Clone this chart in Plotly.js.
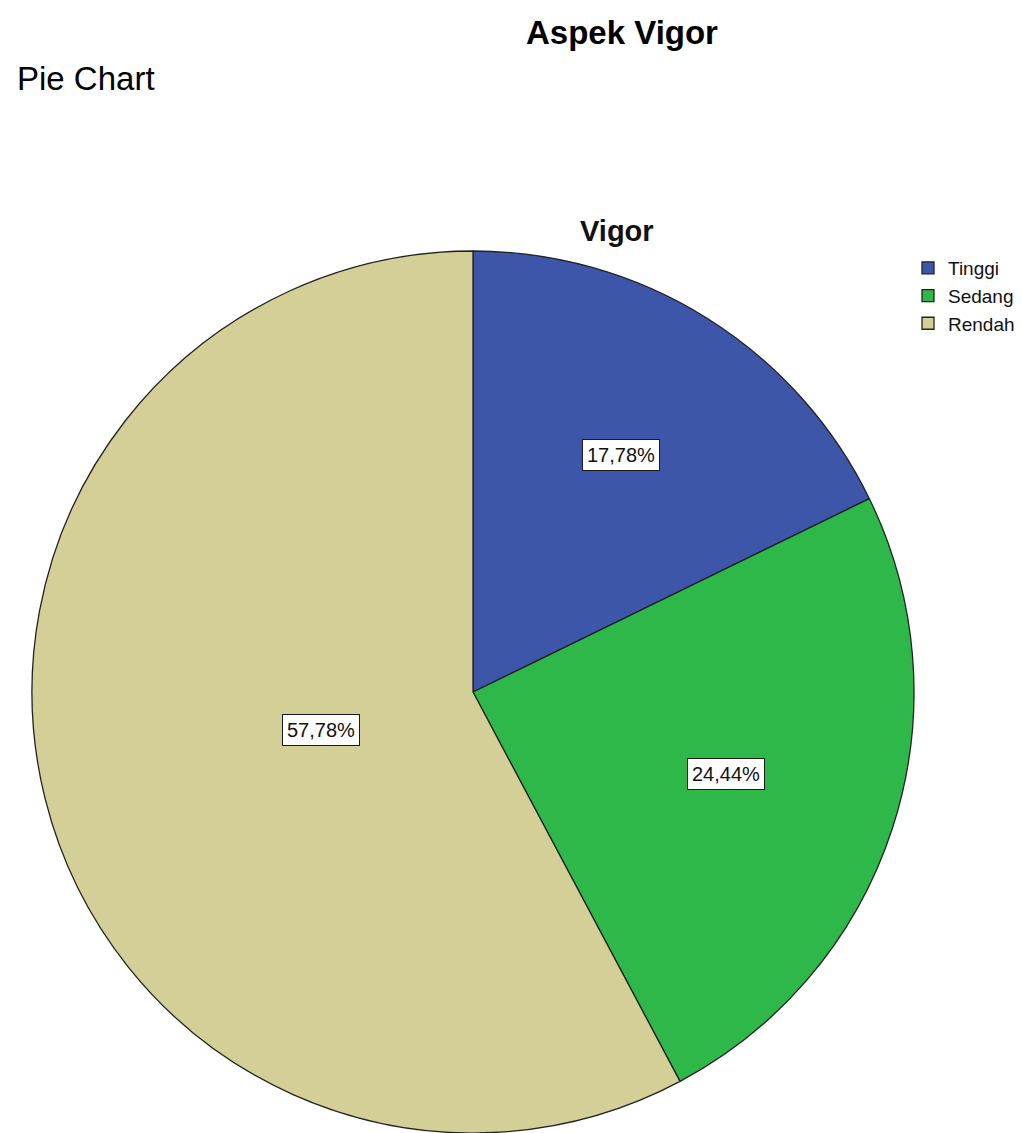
<!DOCTYPE html>
<html>
<head>
<meta charset="utf-8">
<script src="https://cdn.plot.ly/plotly-3.0.1.min.js"></script>
<style>html,body{margin:0;padding:0;background:#fff;}#chart{width:1022px;height:1133px;}</style>
</head>
<body>
<div id="chart"></div>
<script>
const categories = ["Tinggi", "Sedang", "Rendah"];
const counts = [8, 11, 26];
const colors = ["#3d56aa", "#2fb84a", "#d4ce97"];
const mainTitle = "Aspek Vigor";
const subTitle = "Pie Chart";
const pieTitle = "Vigor";

const W = 1022, H = 1133;
const FONT = 'Liberation Sans, Arial, sans-serif';
const domX = [32 / W, 914 / W];
const domY = [0, (H - 251) / H];

const total = counts.reduce((a, b) => a + b, 0);
// label positions: centroid of each sector, derived from the data
const cx = (domX[0] + domX[1]) / 2, cy = (domY[0] + domY[1]) / 2;
const rx = (domX[1] - domX[0]) / 2, ry = (domY[1] - domY[0]) / 2;
let cum = 0;
const annotations = [];
counts.forEach((v, i) => {
  const half = v / total * Math.PI;
  const mid = (cum + v / 2) / total * 2 * Math.PI;
  cum += v;
  const frac = 2 * Math.sin(half) / (3 * half);
  const pct = (v / total * 100).toFixed(2).replace('.', ',') + '%';
  annotations.push({
    xref: 'paper', yref: 'paper',
    x: cx + frac * rx * Math.sin(mid),
    y: cy + frac * ry * Math.cos(mid),
    xanchor: 'center', yanchor: 'middle',
    text: pct, showarrow: false,
    bgcolor: '#ffffff', bordercolor: '#1a1a1a', borderwidth: 1, borderpad: 4,
    font: {family: FONT, size: 20, color: '#111'}
  });
});
annotations.push({xref: 'paper', yref: 'paper', x: 622 / W, y: 1 - 33 / H, xanchor: 'center', yanchor: 'middle',
  text: '<b>' + mainTitle + '</b>', showarrow: false,
  font: {family: FONT, size: 33, color: '#000'}});
annotations.push({xref: 'paper', yref: 'paper', x: 15 / W, y: 1 - 79 / H, xanchor: 'left', yanchor: 'middle',
  text: subTitle, showarrow: false,
  font: {family: FONT, size: 33, color: '#000'}});
annotations.push({xref: 'paper', yref: 'paper', x: 617 / W, y: 1 - 231 / H, xanchor: 'center', yanchor: 'middle',
  text: '<b>' + pieTitle + '</b>', showarrow: false,
  font: {family: FONT, size: 29, color: '#111'}});

const trace = {
  type: 'pie',
  labels: categories,
  values: counts,
  sort: false,
  direction: 'clockwise',
  rotation: 0,
  textinfo: 'none',
  hoverinfo: 'label+percent',
  marker: {colors: colors, line: {color: '#222222', width: 1.3}},
  domain: {x: domX, y: domY}
};

const layout = {
  width: W, height: H,
  margin: {l: 0, r: 0, t: 0, b: 0},
  paper_bgcolor: '#fff',
  separators: ',.',
  showlegend: true,
  legend: {x: 908 / W, y: 1 - 249 / H, xanchor: 'left', yanchor: 'top',
    font: {family: FONT, size: 19, color: '#111'},
    bgcolor: 'rgba(0,0,0,0)', itemwidth: 30, tracegroupgap: 0},
  annotations: annotations
};

Plotly.newPlot('chart', [trace], layout, {displayModeBar: false, staticPlot: true});
</script>
</body>
</html>
